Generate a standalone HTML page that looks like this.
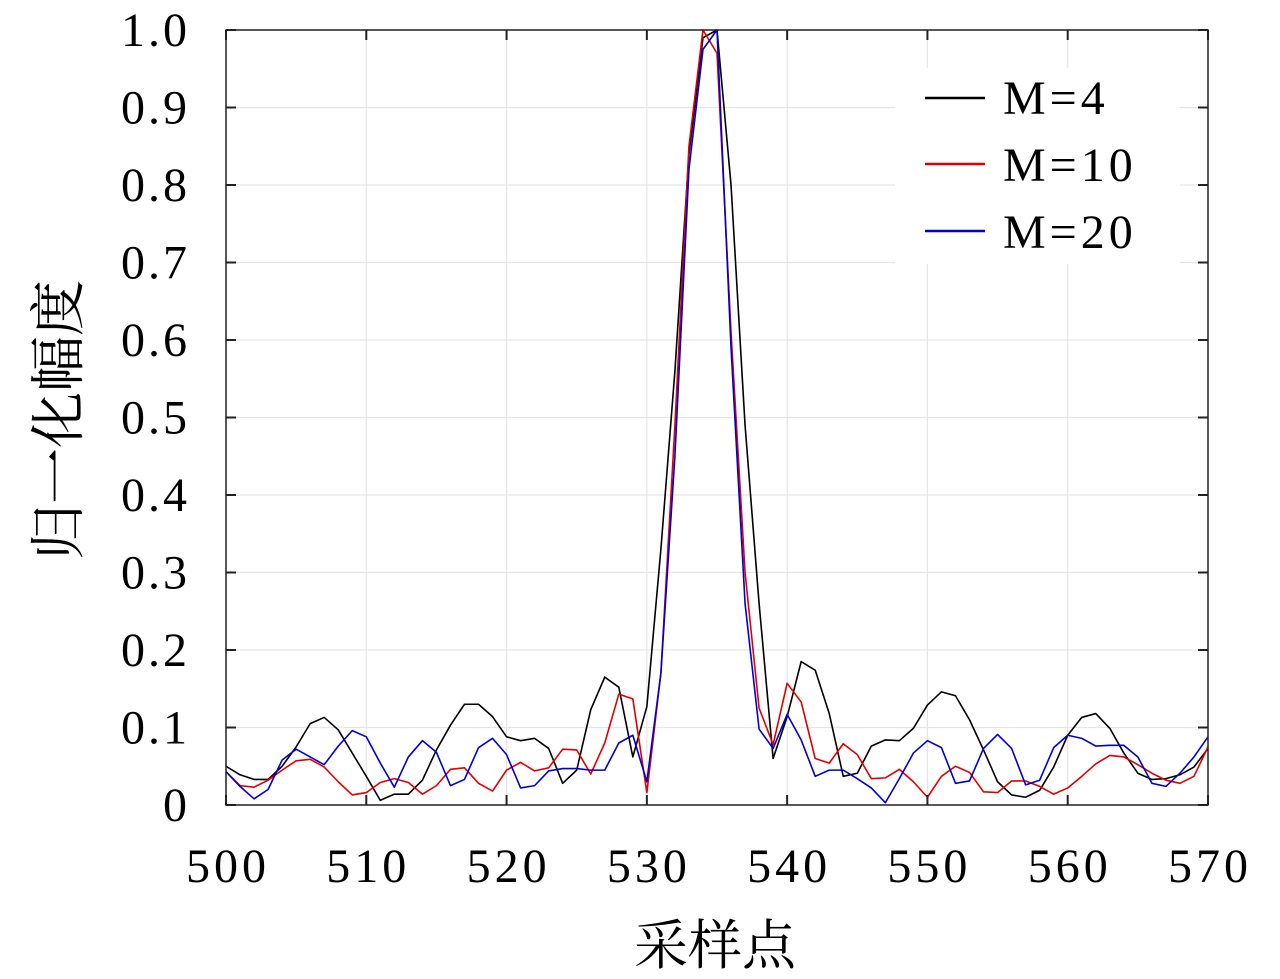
<!DOCTYPE html>
<html><head><meta charset="utf-8"><style>
body{margin:0;background:#fff;}
svg text{font-family:"Liberation Serif","Noto Serif CJK SC",serif;}
</style></head><body>
<svg id="chart" width="1280" height="974" xmlns="http://www.w3.org/2000/svg">
<g id="grid"></g>
<g id="series"></g>
<rect x="226" y="30" width="982" height="775" fill="none" stroke="#222" stroke-width="1.5"/>
<g id="ticks"></g>
<text x="715" y="964" font-size="54" text-anchor="middle" style='font-family:"Noto Serif CJK SC",serif'>采样点</text>
<text transform="translate(78,420) rotate(-90)" font-size="56" text-anchor="middle" style='font-family:"Noto Serif CJK SC",serif'>归一化幅度</text>
<g>
<rect x="895" y="68" width="285" height="196" fill="#fff"/>
<g><line x1="925" y1="98" x2="985" y2="98" stroke="#000" stroke-width="2.5"/><text x="1003" y="114" font-size="48" letter-spacing="4">M=4</text></g>
<g><line x1="925" y1="164" x2="985" y2="164" stroke="#e00000" stroke-width="2.5"/><text x="1003" y="181" font-size="48" letter-spacing="4">M=10</text></g>
<g><line x1="925" y1="231" x2="985" y2="231" stroke="#0000d0" stroke-width="2.5"/><text x="1003" y="248" font-size="48" letter-spacing="4">M=20</text></g>
</g>
</svg>
<script>
const xStart = 500;
const m4 = [0.05,0.039,0.033,0.033,0.05,0.075,0.105,0.113,0.097,0.067,0.037,0.006,0.014,0.014,0.032,0.071,0.103,0.13,0.13,0.114,0.088,0.083,0.086,0.073,0.028,0.045,0.123,0.165,0.152,0.062,0.127,0.33,0.56,0.84,0.99,1.0,0.80,0.49,0.26,0.06,0.114,0.185,0.174,0.118,0.037,0.041,0.076,0.084,0.083,0.099,0.129,0.146,0.141,0.11,0.071,0.03,0.013,0.01,0.019,0.049,0.09,0.113,0.118,0.099,0.067,0.041,0.033,0.034,0.039,0.049,0.073];
const m10 = [0.043,0.025,0.023,0.032,0.045,0.057,0.059,0.049,0.03,0.013,0.016,0.029,0.034,0.029,0.014,0.025,0.046,0.048,0.028,0.018,0.045,0.055,0.044,0.048,0.072,0.071,0.04,0.08,0.143,0.137,0.016,0.17,0.49,0.85,1.0,0.97,0.61,0.30,0.125,0.078,0.157,0.133,0.06,0.054,0.079,0.065,0.034,0.035,0.046,0.03,0.01,0.037,0.05,0.042,0.017,0.016,0.031,0.031,0.024,0.014,0.022,0.037,0.053,0.064,0.062,0.052,0.041,0.032,0.028,0.037,0.075];
const m20 = [0.043,0.024,0.008,0.02,0.058,0.072,0.062,0.052,0.076,0.096,0.088,0.054,0.023,0.062,0.083,0.068,0.025,0.033,0.074,0.086,0.065,0.022,0.025,0.044,0.047,0.047,0.045,0.045,0.08,0.09,0.03,0.17,0.45,0.82,0.975,1.0,0.59,0.26,0.098,0.073,0.117,0.084,0.037,0.045,0.045,0.034,0.022,0.003,0.034,0.067,0.083,0.074,0.028,0.031,0.073,0.091,0.073,0.026,0.032,0.074,0.09,0.086,0.076,0.077,0.077,0.062,0.028,0.024,0.041,0.062,0.088];
const xTicks = [500,510,520,530,540,550,560,570];
const yTicks = [0,0.1,0.2,0.3,0.4,0.5,0.6,0.7,0.8,0.9,1.0];
const yTickLabels = ["0","0.1","0.2","0.3","0.4","0.5","0.6","0.7","0.8","0.9","1.0"];
const X0=226,X1=1208,Y0=805,Y1=30;
const xs=v=>X0+(v-500)/70*(X1-X0);
const ys=v=>Y0-v*(Y0-Y1);
const NS="http://www.w3.org/2000/svg";
function mk(t,a,p){const e=document.createElementNS(NS,t);for(const k in a)e.setAttribute(k,a[k]);p.appendChild(e);return e;}
const grid=document.getElementById('grid'),ticks=document.getElementById('ticks'),ser=document.getElementById('series');
xTicks.forEach(v=>{
  const g=mk('line',{x1:xs(v),x2:xs(v),y1:Y1,y2:Y0,stroke:'#e6e6e6','stroke-width':1.2},grid);
  
  
  const t1=mk('line',{x1:xs(v),x2:xs(v),y1:Y0,y2:Y0-10,stroke:'#222','stroke-width':2},ticks);
  
  
  const t2=mk('line',{x1:xs(v),x2:xs(v),y1:Y1,y2:Y1+10,stroke:'#222','stroke-width':2},ticks);
  
  
  const l=mk('text',{x:xs(v)+2,y:882,'font-size':48,'letter-spacing':4,'text-anchor':'middle'},ticks);
  l.textContent=v;
  
  
});
yTicks.forEach((v,i)=>{
  const g=mk('line',{x1:X0,x2:X1,y1:ys(v),y2:ys(v),stroke:'#e6e6e6','stroke-width':1.2},grid);
  
  
  const t1=mk('line',{x1:X0,x2:X0+10,y1:ys(v),y2:ys(v),stroke:'#222','stroke-width':2},ticks);
  
  
  const t2=mk('line',{x1:X1,x2:X1-10,y1:ys(v),y2:ys(v),stroke:'#222','stroke-width':2},ticks);
  
  
  const l=mk('text',{x:190,y:ys(v)+16,'font-size':48,'letter-spacing':3,'text-anchor':'end'},ticks);
  l.textContent=yTickLabels[i];
  
  
});
[[m4,'#000','series-m4'],[m10,'#e00000','series-m10'],[m20,'#0000d0','series-m20']].forEach(([d,c,n])=>{
  const p=mk('polyline',{points:d.map((v,i)=>xs(xStart+i)+','+ys(v)).join(' '),fill:'none',stroke:c,'stroke-width':1.6,'stroke-linejoin':'round'},ser);
  
  
});
</script>
</body></html>
